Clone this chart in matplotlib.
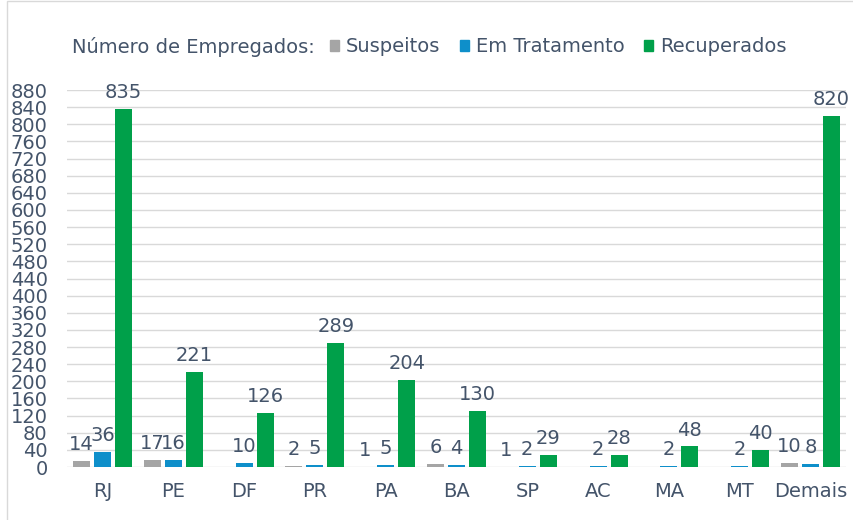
import numpy as np
import matplotlib.pyplot as plt
from matplotlib.patches import Patch, Rectangle

#%%----------------------------------------------------------------------------
estados = ['RJ', 'PE', 'DF', 'PR', 'PA', 'BA', 'SP', 'AC', 'MA', 'MT', 'Demais']
suspeitos = [14, 17, np.nan, 2, 1, 6, 1, np.nan, np.nan, np.nan, 10]
tratamento = [36, 16, 10, 5, 5, 4, 2, 2, 2, 2, 8]
recuperados = [835, 221, 126, 289, 204, 130, 29, 28, 48, 40, 820]

series = ['Suspeitos', 'Em Tratamento', 'Recuperados']
cores = ['#A5A5A5', '#0E8FCA', '#00A04A']
texto = '#44546A'
fs = 14
#%%----------------------------------------------------------------------------
fig = plt.figure(figsize=(8.54, 5.2), dpi=100)
ax = fig.add_axes([0.0785, 0.1019, 0.912, 0.725])

x = np.arange(len(estados))
larg = 0.24
passo = 0.297
for i, (vals, cor) in enumerate(zip([suspeitos, tratamento, recuperados], cores)):
    v = np.array(vals, dtype=float)
    barras = ax.bar(x + (i - 1) * passo, np.nan_to_num(v), larg, color=cor, zorder=3)
    rotulos = ['' if np.isnan(a) else '%d' % a for a in v]
    ax.bar_label(barras, labels=rotulos, padding=5, fontsize=fs, color=texto)

ax.set_xlim(-0.5, len(estados) - 0.5)
ax.set_ylim(0, 880)
ax.set_yticks(np.arange(0, 881, 40))
ax.set_xticks(x)
ax.set_xticklabels(estados)
ax.tick_params(axis='both', length=0, labelsize=fs, labelcolor=texto)
ax.tick_params(axis='x', pad=11)
ax.tick_params(axis='y', pad=14)
ax.grid(axis='y', color='#D9D9D9', linewidth=1, zorder=0)
for s in ax.spines.values():
    s.set_visible(False)

# legenda
fig.text(72 / 854, 1 - 47 / 520, 'Número de Empregados:', fontsize=fs,
         color=texto, va='center', ha='left')
handles = [Patch(color=c, label=l) for c, l in zip(cores, series)]
fig.legend(handles=handles, loc='center left', bbox_to_anchor=(330 / 854, 1 - 47 / 520),
           ncol=3, frameon=False, fontsize=fs, labelcolor=texto, borderpad=0,
           borderaxespad=0, handlelength=0.47, handleheight=0.47,
           handletextpad=0.36, columnspacing=1.0)

# moldura
fig.patches.append(Rectangle((7 / 854, -0.1), 1.2, 1.1 - 1 / 520, transform=fig.transFigure,
                             fill=False, edgecolor='#D9D9D9', linewidth=1))

plt.savefig('out.png', dpi=100)
